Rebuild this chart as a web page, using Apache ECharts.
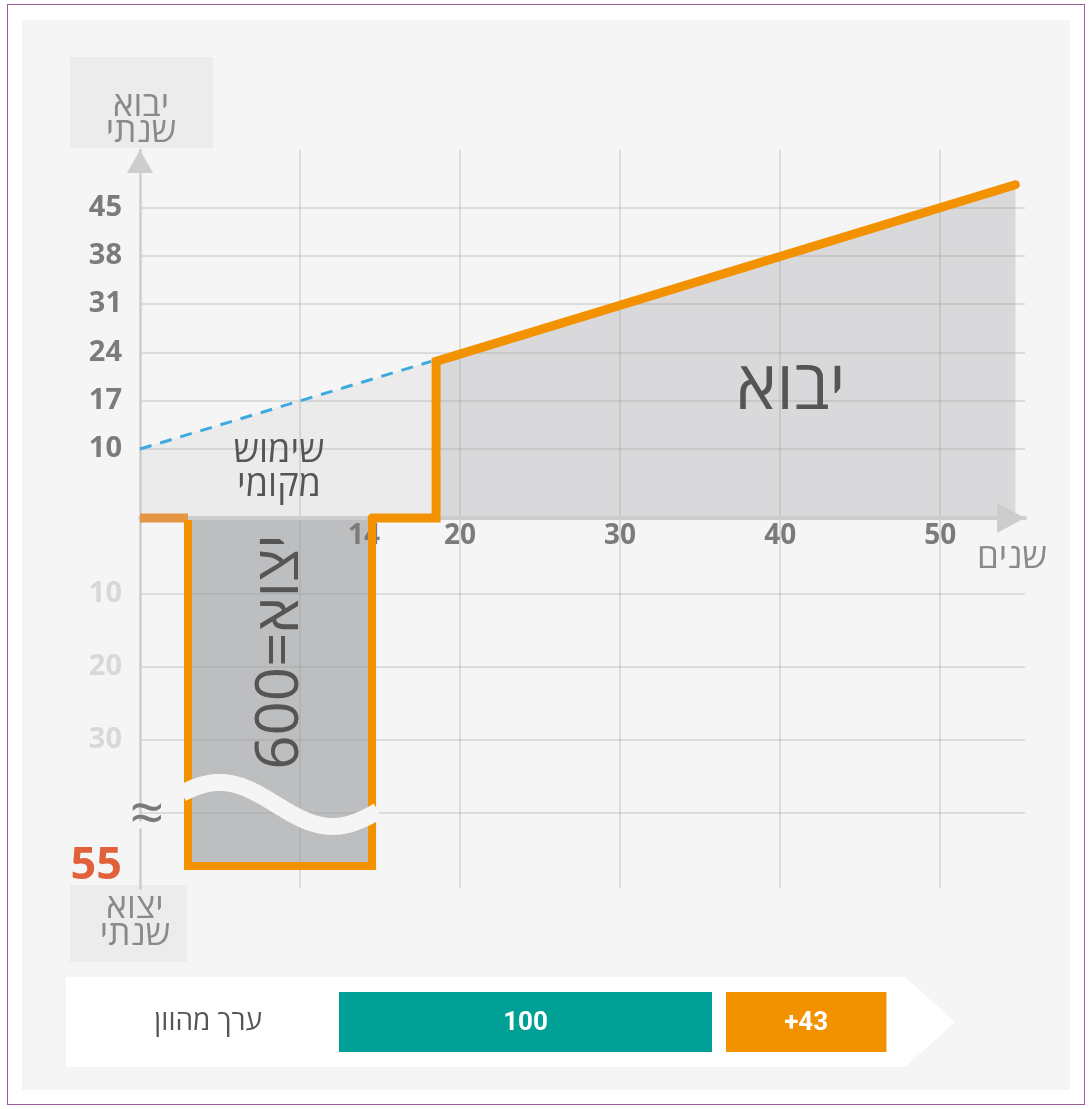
<!DOCTYPE html>
<html>
<head>
<meta charset="utf-8">
<script src="https://cdn.jsdelivr.net/npm/echarts@6/dist/echarts.min.js"></script>
<style>
  html, body { margin: 0; padding: 0; background: #ffffff; }
  #frame { position: absolute; left: 7px; top: 4px; width: 1078px; height: 1101px; border: 1px solid #9c5c9c; box-sizing: border-box; }
  #panel { position: absolute; left: 22px; top: 20px; width: 1048px; height: 1070px; background: #f5f5f5; }
  #chart { position: absolute; left: 0; top: 0; width: 1090px; height: 1109px; }
</style>
</head>
<body>
<div id="frame"></div>
<div id="panel"></div>
<div id="chart"></div>
<script>
// ---- data ----
const yearGrid = [10, 20, 30, 40, 50];          // vertical grid lines (years)
const yearLabels = [14, 20, 30, 40, 50];        // year tick labels
const importGrid = [10, 17, 24, 31, 38, 45];    // annual import ticks
const exportGrid = [10, 20, 30, 40];            // annual export grid lines
const exportLabels = [10, 20, 30, 55];          // annual export tick labels
const localUseLine = [[0, 10], [18.2, 22.7]];   // local use (dashed)
const leadInLine = [[0, 0], [3, 0]];
const exportOutline = [[3, 0], [3, 55], [14.5, 55], [14.5, 0]];
const importOutline = [[14.5, 0], [18.5, 0], [18.5, 22.7], [54.7, 48.3]];
const capitalCategory = ['ערך מהוון'];
const capitalNames = ['100', '+43'];
const capitalValues = [100, 43];

const FONT = "'Open Sans', 'DejaVu Sans', sans-serif";
const ORANGE = '#f39200';
const GRID = 'rgba(150,150,150,0.35)';
const AXIS = '#cdcdcd';

// cumulative segments for the capital value bar
const capitalSegments = [];
let acc = 0;
capitalValues.forEach((v, i) => { capitalSegments.push([acc, acc + v, 0, i]); acc += v; });

const chart = echarts.init(document.getElementById('chart'), null, { renderer: 'canvas' });

const option = {
  animation: false,
  backgroundColor: 'transparent',
  grid: [
    { left: 140, top: 150, width: 885, height: 368 },
    { left: 140, top: 520, width: 885, height: 368 },
    { left: 339, top: 992, width: 533.4, height: 60 }
  ],
  xAxis: [
    {
      gridIndex: 0, type: 'value', min: 0, max: 55.3, position: 'bottom', z: 3,
      axisLine: { show: true, symbol: ['none', 'triangle'], symbolSize: [30, 28], symbolOffset: [0, -14],
                  lineStyle: { color: AXIS, width: 4 } },
      axisTick: { show: false, customValues: yearGrid },
      splitLine: { show: true, lineStyle: { color: GRID, width: 1.5 } },
      axisLabel: { customValues: yearLabels, color: '#7b7b7b', fontSize: 28, fontWeight: 'bold', fontFamily: FONT, margin: 4 }
    },
    {
      gridIndex: 1, type: 'value', min: 0, max: 55.3, position: 'top', z: 3,
      axisLine: { show: false },
      axisTick: { show: false, customValues: yearGrid },
      splitLine: { show: true, lineStyle: { color: GRID, width: 1.5 } },
      axisLabel: { show: false }
    },
    { gridIndex: 2, type: 'value', min: 0, max: 143, show: false }
  ],
  yAxis: [
    {
      gridIndex: 0, type: 'value', min: 0, max: 53.33, z: 3,
      axisLine: { show: true, symbol: ['none', 'triangle'], symbolSize: [26, 23], symbolOffset: [0, -11.5],
                  lineStyle: { color: AXIS, width: 2.5 } },
      axisTick: { show: false, customValues: importGrid },
      splitLine: { show: true, lineStyle: { color: GRID, width: 1.5 } },
      axisLabel: { customValues: importGrid, color: '#7b7b7b', fontSize: 29, fontWeight: 'bold', fontFamily: FONT,
                   margin: 18, padding: [0, 0, 6, 0] }
    },
    {
      gridIndex: 1, type: 'value', min: 0, max: 58, inverse: true, z: 3,
      breaks: [{ start: 41, end: 50, gap: 1.2 }],
      breakArea: { show: false },
      axisLine: { show: true, lineStyle: { color: AXIS, width: 2.5 } },
      axisTick: { show: false, customValues: exportGrid },
      splitLine: { show: true, lineStyle: { color: GRID, width: 1.5 } },
      axisLabel: {
        customValues: exportLabels, margin: 18,
        formatter: v => (v === 55 ? '{hi|' + v + '}' : '{lo|' + v + '}'),
        rich: {
          hi: { color: '#e0613a', fontSize: 45, fontWeight: 'bold', fontFamily: FONT },
          lo: { color: '#d8d8d8', fontSize: 29, fontWeight: 'bold', fontFamily: FONT }
        }
      }
    },
    {
      gridIndex: 2, type: 'category', data: capitalCategory,
      axisLine: { show: false }, axisTick: { show: false }, splitLine: { show: false },
      axisLabel: { color: '#555555', fontSize: 28, fontFamily: FONT, margin: 77 }
    }
  ],
  series: [
    { // local use fill
      type: 'line', xAxisIndex: 0, yAxisIndex: 0, data: localUseLine, symbol: 'none', z: 1, clip: false,
      lineStyle: { width: 0, opacity: 0 }, areaStyle: { color: '#ebebeb', opacity: 1 }
    },
    { // import fill
      type: 'line', xAxisIndex: 0, yAxisIndex: 0, data: importOutline, symbol: 'none', z: 1, clip: false,
      lineStyle: { width: 0, opacity: 0 }, areaStyle: { color: '#d9d9db', opacity: 1 }
    },
    { // export fill
      type: 'line', xAxisIndex: 1, yAxisIndex: 1, data: exportOutline, symbol: 'none', z: 1, clip: false,
      lineStyle: { width: 0, opacity: 0 }, areaStyle: { color: '#bdbec0', opacity: 1 }
    },
    { // local use trend
      type: 'line', xAxisIndex: 0, yAxisIndex: 0, data: localUseLine, symbol: 'none', z: 4, clip: false,
      lineStyle: { color: '#3fa9e0', width: 3, type: [12, 9] }
    },
    {
      type: 'line', xAxisIndex: 0, yAxisIndex: 0, data: leadInLine, symbol: 'none', z: 5, clip: false,
      lineStyle: { color: '#e59544', width: 9, cap: 'butt' }
    },
    {
      type: 'line', xAxisIndex: 1, yAxisIndex: 1, data: exportOutline, symbol: 'none', z: 5, clip: false,
      lineStyle: { color: ORANGE, width: 8, join: 'miter', cap: 'butt' }
    },
    {
      type: 'line', xAxisIndex: 0, yAxisIndex: 0, data: importOutline, symbol: 'none', z: 5, clip: false,
      lineStyle: { color: ORANGE, width: 9, join: 'miter', cap: 'round' }
    },
    { // capital value bar
      type: 'custom', xAxisIndex: 2, yAxisIndex: 2, z: 3,
      data: capitalSegments,
      encode: { x: [0, 1], y: 2 },
      renderItem: function (params, api) {
        const i = api.value(3);
        const a = api.coord([api.value(0), api.value(2)]);
        const b = api.coord([api.value(1), api.value(2)]);
        const band = api.size([0, 1])[1];
        const off = i * 14;
        const w = b[0] - a[0];
        return {
          type: 'group',
          children: [
            { type: 'rect', shape: { x: a[0] + off, y: a[1] - band / 2, width: w, height: band },
              style: { fill: i === 0 ? '#00a096' : ORANGE } },
            { type: 'text', style: { text: capitalNames[i], x: a[0] + off + w / 2, y: a[1] + 1,
              align: 'center', verticalAlign: 'middle', fill: '#ffffff',
              font: "bold 26px 'Liberation Sans Narrow', 'Roboto', sans-serif" } }
          ]
        };
      }
    }
  ]
};
chart.setOption(option);

// decorations placed from the axis scales
const lowPx = (x, y) => chart.convertToPixel({ gridIndex: 1 }, [x, y]);
const boxL = lowPx(exportOutline[0][0], 0)[0] - 6;
const boxR = lowPx(exportOutline[2][0], 0)[0] + 6;
const waveY = lowPx(0, 38.8)[1];
const wavePts = [];
for (let x = boxL; x <= boxR; x += 2) {
  wavePts.push([x, waveY - 22 * Math.sin(2 * Math.PI * (x - boxL + 19) / 226)]);
}

const grey = '#8a8a8a';
chart.setOption({
  graphic: [
    { type: 'rect', z: 0, shape: { x: 70, y: 57, width: 143, height: 91 }, style: { fill: '#ececec' } },
    { type: 'text', z: 20, style: { text: 'יבוא\nשנתי', x: 141, y: 119, align: 'center', verticalAlign: 'middle',
      fill: grey, font: "35px " + FONT, lineHeight: 26 } },
    { type: 'rect', z: 0, shape: { x: 70, y: 885, width: 117, height: 77 }, style: { fill: '#ececec' } },
    { type: 'text', z: 20, style: { text: 'יצוא\nשנתי', x: 135, y: 922, align: 'center', verticalAlign: 'middle',
      fill: grey, font: "35px " + FONT, lineHeight: 27 } },
    { type: 'polygon', z: 0, shape: { points: [[66, 977], [905, 977], [955, 1022], [905, 1067], [66, 1067]] },
      style: { fill: '#ffffff' } },
    { type: 'text', z: 20, style: { text: 'שנים', x: 1012, y: 558, align: 'center', verticalAlign: 'middle',
      fill: grey, font: "35px " + FONT } },
    { type: 'text', z: 20, style: { text: 'יבוא', x: 791, y: 390, align: 'center', verticalAlign: 'middle',
      fill: '#555555', font: "68px " + FONT } },
    { type: 'text', z: 20, style: { text: 'שימוש\nמקומי', x: 279, y: 469, align: 'center', verticalAlign: 'middle',
      fill: '#555555', font: "36px " + FONT, lineHeight: 34 } },
    { type: 'text', z: 20, x: 281, y: 652, rotation: Math.PI / 2,
      style: { text: '600=יצוא', x: 0, y: 0, align: 'center', verticalAlign: 'middle',
      fill: '#555555', font: "60px " + FONT } },
    { type: 'polyline', z: 30, shape: { points: wavePts },
      style: { stroke: '#f5f5f5', lineWidth: 17, fill: null } },
    { type: 'text', z: 30, style: { text: '≈', x: 147, y: waveY + 12, align: 'center', verticalAlign: 'middle',
      fill: '#7a7a7a', font: "60px " + FONT } }
  ]
});
</script>
</body>
</html>
